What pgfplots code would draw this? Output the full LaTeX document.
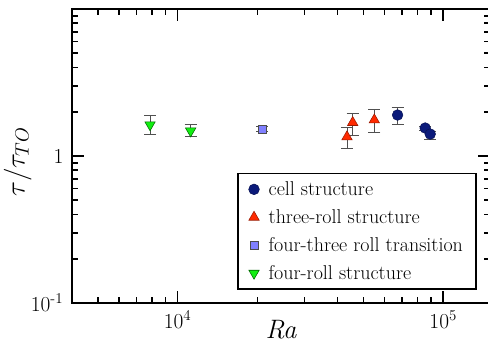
\documentclass[border=0pt]{standalone}
\usepackage{pgfplots}
\pgfplotsset{compat=1.18}
\definecolor{navyc}{HTML}{0B1A7A}
\definecolor{redc}{HTML}{FF2A00}
\definecolor{lavc}{HTML}{8080FF}
\definecolor{greenc}{HTML}{11EE11}
\definecolor{errc}{HTML}{505050}
\begin{document}
\begin{tikzpicture}
\begin{axis}[
 xmode=log, ymode=log,
 width=313.5pt, height=220.5pt, scale only axis,
 xmin=4000, xmax=1.5e5, ymin=0.1, ymax=10,
 axis line style={line width=1.5pt},
 every tick/.style={black, line width=1.2pt},
 major tick length=9pt, minor tick length=4.5pt,
 tick align=inside,
 xtick={1e4,1e5}, xticklabels={10\textsuperscript{4},10\textsuperscript{5}},
 ytick={0.1,1,10}, yticklabels={10\textsuperscript{-1},1,{}},
 minor xtick={5000,6000,7000,8000,9000,2e4,3e4,4e4,5e4,6e4,7e4,8e4,9e4},
 minor ytick={0.2,0.3,0.4,0.5,0.6,0.7,0.8,0.9,2,3,4,5,6,7,8,9},
 tick label style={font=\fontsize{16}{19}\selectfont},
 yticklabel style={xshift=-3pt},
 xticklabel style={yshift=-2pt},
 xlabel={\fontsize{20}{23}\selectfont\itshape Ra},
 xlabel style={at={(axis description cs:0.5,-0.092)}, anchor=center},
 ylabel={\fontsize{20}{23}\selectfont $\tau/\tau_{TO}$},
 ylabel style={at={(axis description cs:-0.13,0.48)}, anchor=center},
 legend style={at={(axis description cs:0.969,0.044)}, anchor=south east,
   draw=black, line width=1.2pt, font=\fontsize{15}{18}\selectfont,
   row sep=5pt, inner xsep=8pt, inner ysep=4pt,
   /tikz/every odd column/.append style={column sep=5pt}},
 legend cell align=left,
 error bars/error bar style={line width=0.6pt, draw=errc},
 error bars/error mark options={rotate=90, mark size=4.5pt, line width=0.6pt, draw=errc},
]
\coordinate (sw) at (rel axis cs:0,0);
\coordinate (ne) at (rel axis cs:1,1);
\addplot[only marks, mark=*, mark size=4pt, mark options={fill=navyc, draw=navyc!70!black, line width=0.4pt},
  error bars/.cd, y dir=both, y explicit]
  table[x=x, y=y, y error plus=ep, y error minus=em] {
x y ep em
67300 1.90 0.25 0.27
85500 1.55 0.05 0.05
89300 1.41 0.06 0.12
};
\addlegendentry{cell structure}
\addplot[only marks, mark=triangle*, mark size=4.5pt, mark options={fill=redc, draw=redc!60!black, line width=0.4pt},
  error bars/.cd, y dir=both, y explicit]
  table[x=x, y=y, y error plus=ep, y error minus=em] {
x y ep em
43400 1.35 0.21 0.23
45600 1.69 0.26 0.30
55000 1.76 0.30 0.32
};
\addlegendentry{three-roll structure}
\addplot[only marks, mark=square*, mark size=3pt, mark options={fill=lavc, draw=black!70, line width=0.4pt},
  error bars/.cd, y dir=both, y explicit]
  table[x=x, y=y, y error plus=ep, y error minus=em] {
x y ep em
20800 1.52 0.06 0.06
};
\addlegendentry{four-three roll transition}
\addplot[only marks, mark=triangle*, mark size=4.5pt, mark options={rotate=180, fill=greenc, draw=green!40!black, line width=0.4pt},
  error bars/.cd, y dir=both, y explicit]
  table[x=x, y=y, y error plus=ep, y error minus=em] {
x y ep em
7870 1.63 0.27 0.22
11190 1.48 0.15 0.13
};
\addlegendentry{four-roll structure}
\end{axis}
\pgfresetboundingbox
\path[use as bounding box] ([xshift=-54pt,yshift=-30pt]sw) rectangle ([xshift=-1.5pt,yshift=6.75pt]ne);
\end{tikzpicture}
\end{document}
